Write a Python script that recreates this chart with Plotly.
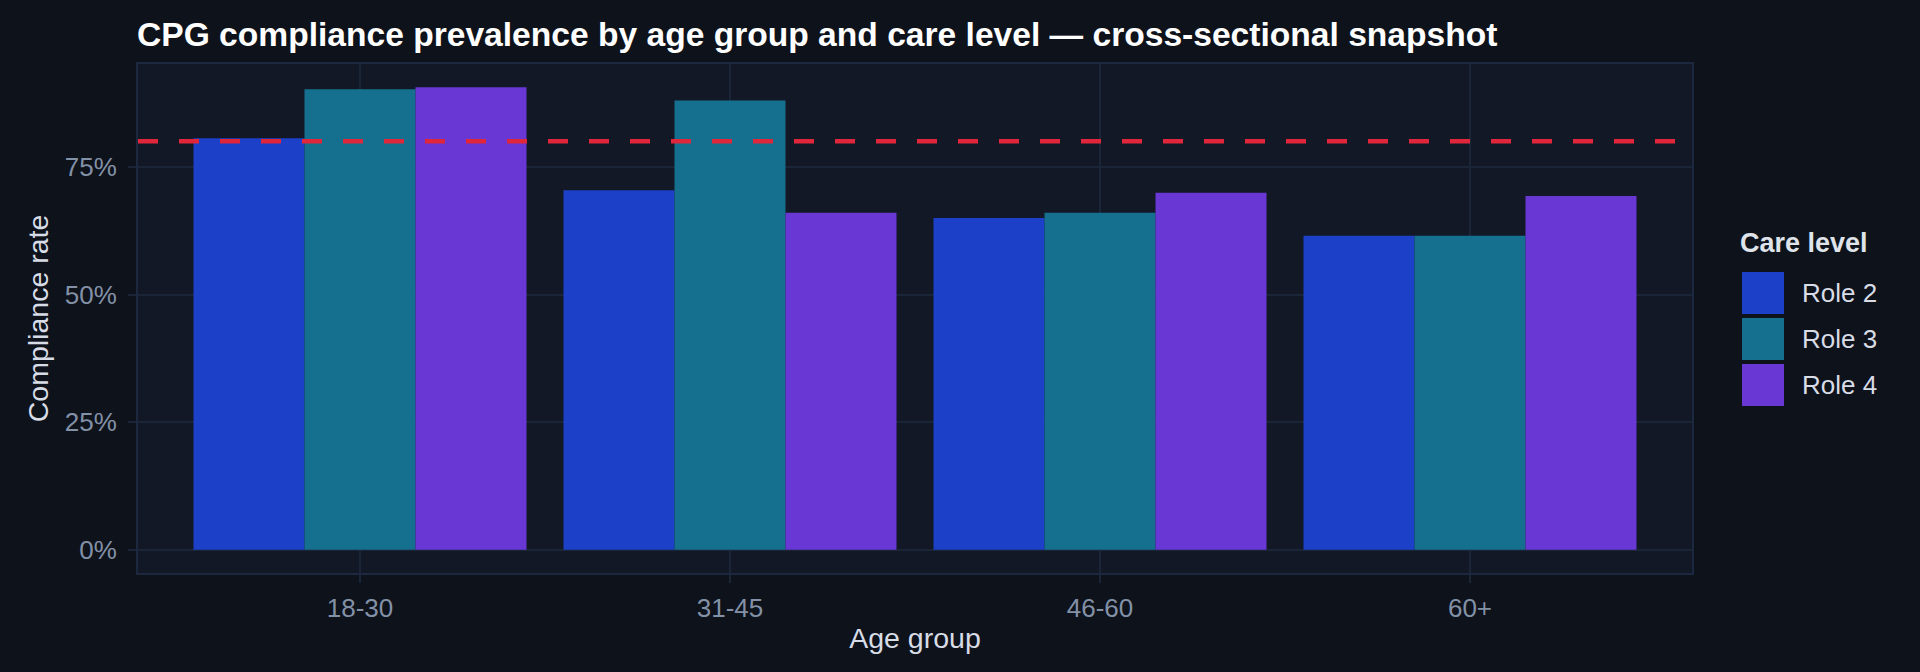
import plotly.graph_objects as go

# Daten: Compliance-Anteile je Altersgruppe und Versorgungsebene
age_groups = ["18-30", "31-45", "46-60", "60+"]
care_levels = ["Role 2", "Role 3", "Role 4"]
role2 = [0.806, 0.704, 0.650, 0.615]
role3 = [0.902, 0.880, 0.660, 0.615]
role4 = [0.906, 0.660, 0.699, 0.693]
target = 0.80
y_ticks = [0, 0.25, 0.5, 0.75]

colors = ["#1c40c8", "#14708e", "#6837d4"]
page_bg = "#0e121b"
panel_bg = "#121826"
grid_col = "#1b2538"
font_fam = "Liberation Sans, Arial, sans-serif"

W, H = 1920, 672
L, R, T, B = 138, 228, 64, 99


def px_x(p):
    return (p - L) / (W - L - R)


def px_y(p):
    return 1 - (p - T) / (H - T - B)


fig = go.Figure()
for name, vals, col in zip(care_levels, [role2, role3, role4], colors):
    fig.add_trace(go.Bar(x=age_groups, y=vals, name=name,
                         marker=dict(color=col, line=dict(width=0)),
                         showlegend=False))

# Zielwert als gestrichelte Linie
fig.add_hline(y=target, line=dict(color="#e0263a", width=4.5, dash="20px,21px"))

ymax = max(role2 + role3 + role4)

fig.update_layout(
    width=W, height=H,
    paper_bgcolor=page_bg, plot_bgcolor=panel_bg,
    margin=dict(l=L, r=R, t=T, b=B),
    barmode="group", bargap=0.1, bargroupgap=0,
    font=dict(family=font_fam, color="#d7dce6"),
    title=dict(text="CPG compliance prevalence by age group and care level — cross-sectional snapshot",
               font=dict(size=33.6, color="#ffffff", weight="bold"),
               x=137 / W, xanchor="left", xref="container",
               y=1 - 34 / H, yanchor="middle", yref="container"),
)

fig.update_xaxes(type="category", range=[-0.6, 3.6],
                 showgrid=True, gridcolor=grid_col, gridwidth=2,
                 ticks="outside", ticklen=8, tickwidth=2, tickcolor=grid_col,
                 tickfont=dict(size=26, color="#8391a7"), ticklabelstandoff=3,
                 showline=True, mirror=True, linecolor="#1c2840", linewidth=2,
                 title=dict(text="Age group", font=dict(size=28.5, color="#d7dce6"), standoff=6))

fig.update_yaxes(range=[-0.05 * ymax, 1.05 * ymax], tickvals=y_ticks, tickformat=".0%",
                 showgrid=True, gridcolor=grid_col, gridwidth=2, zeroline=False,
                 ticks="outside", ticklen=8, tickwidth=2, tickcolor=grid_col,
                 tickfont=dict(size=26, color="#8391a7"), ticklabelstandoff=6,
                 showline=True, mirror=True, linecolor="#1c2840", linewidth=2,
                 title=dict(text="Compliance rate", font=dict(size=28.5, color="#d7dce6"), standoff=8))

# Legende von Hand (grosse Farbfelder)
fig.add_annotation(text="<b>Care level</b>", xref="paper", yref="paper",
                   x=px_x(1738), y=px_y(243), xanchor="left", yanchor="middle",
                   showarrow=False, font=dict(size=27, color="#dfe3ea"))
for i, (name, col) in enumerate(zip(care_levels, colors)):
    top = 272 + 46 * i
    fig.add_shape(type="rect", xref="paper", yref="paper",
                  x0=px_x(1742), x1=px_x(1784), y0=px_y(top), y1=px_y(top + 42),
                  fillcolor=col, line=dict(width=0))
    fig.add_annotation(text=name, xref="paper", yref="paper",
                       x=px_x(1800), y=px_y(top + 21), xanchor="left", yanchor="middle",
                       showarrow=False, font=dict(size=26, color="#d7dce6"))

# Seitenrand entfernen, damit die Grafik genau ins Fenster passt
fig.write_html("out.html", config={"displayModeBar": False},
               post_script="document.body.style.margin='0';document.body.style.overflow='hidden';")
